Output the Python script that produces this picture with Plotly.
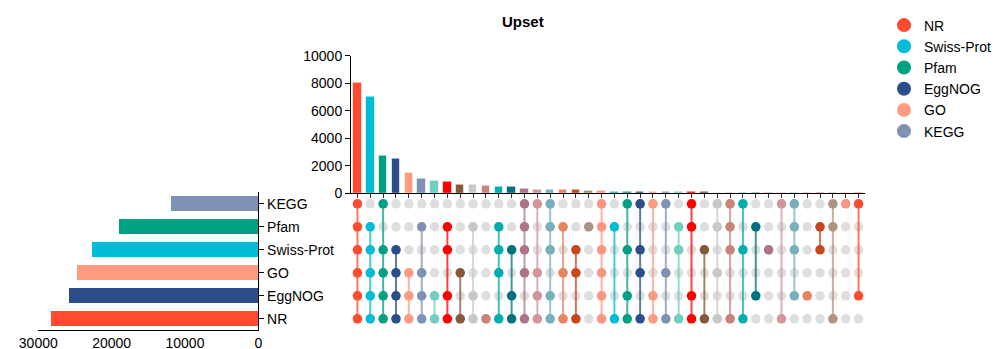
import plotly.graph_objects as go

# ---------------- data ----------------
set_names = ["NR", "EggNOG", "GO", "Swiss-Prot", "Pfam", "KEGG"]   # bottom -> top
set_sizes = [28230, 25820, 24640, 22640, 18950, 11910]

legend_order = ["NR", "Swiss-Prot", "Pfam", "EggNOG", "GO", "KEGG"]

intersections = [
    ["KEGG", "Pfam", "Swiss-Prot", "GO", "EggNOG", "NR"],
    ["Pfam", "Swiss-Prot", "GO", "EggNOG", "NR"],
    ["KEGG", "Swiss-Prot", "GO", "EggNOG", "NR"],
    ["Swiss-Prot", "GO", "EggNOG", "NR"],
    ["GO", "EggNOG", "NR"],
    ["Pfam", "GO", "EggNOG", "NR"],
    ["EggNOG", "NR"],
    ["Pfam", "Swiss-Prot", "EggNOG", "NR"],
    ["GO", "NR"],
    ["Pfam", "EggNOG", "NR"],
    ["NR"],
    ["Pfam", "Swiss-Prot", "GO", "NR"],
    ["Swiss-Prot", "EggNOG", "NR"],
    ["KEGG", "Pfam", "Swiss-Prot", "GO", "NR"],
    ["KEGG", "GO", "EggNOG", "NR"],
    ["KEGG", "Pfam", "Swiss-Prot", "EggNOG", "NR"],
    ["Pfam", "GO", "NR"],
    ["Swiss-Prot", "GO", "NR"],
    ["Pfam"],
    ["KEGG", "Pfam", "Swiss-Prot", "GO", "EggNOG", "NR"],
    ["Pfam", "NR"],
    ["KEGG", "Swiss-Prot", "EggNOG", "NR"],
    ["KEGG", "Swiss-Prot", "GO", "NR"],
    ["KEGG", "EggNOG", "NR"],
    ["KEGG", "GO", "NR"],
    ["Pfam", "Swiss-Prot", "NR"],
    ["KEGG", "Pfam", "EggNOG", "NR"],
    ["Swiss-Prot", "NR"],
    ["KEGG", "Pfam", "GO", "NR"],
    ["KEGG", "Pfam", "Swiss-Prot", "NR"],
    ["KEGG", "Swiss-Prot", "NR"],
    ["Pfam", "EggNOG"],
    ["Swiss-Prot"],
    ["KEGG", "NR"],
    ["KEGG", "Pfam", "Swiss-Prot", "EggNOG"],
    ["EggNOG"],
    ["Pfam", "Swiss-Prot"],
    ["KEGG", "Pfam", "NR"],
    ["KEGG"],
    ["KEGG", "EggNOG"],
]

intersection_sizes = [8050, 7010, 2710, 2480, 1470, 1040, 900, 870, 630, 600,
                      530, 510, 460, 315, 290, 265, 240, 235, 215, 180,
                      145, 140, 120, 95, 92, 90, 88, 85, 70, 68,
                      62, 45, 40, 35, 30, 25, 20, 15, 10, 8]

# ---------------- styles ----------------
palette = ["#FF4B2F", "#00BCD6", "#00A083", "#2B4D89", "#FF9B80", "#7F92B5",
           "#6FD0C0", "#FF0000", "#86583C", "#C8C8C8", "#C98377", "#00AFAD",
           "#00727F", "#AD7389", "#D4959A", "#77AFBE", "#E8845E", "#C9461F",
           "#B09483", "#FF9580"]
col_colors = [palette[0]] + [palette[1 + (i % 19)] for i in range(38)] + [palette[0]]
set_colors = {"NR": palette[0], "Swiss-Prot": palette[1], "Pfam": palette[2],
              "EggNOG": palette[3], "GO": palette[4], "KEGG": palette[5]}

def rgba(h, a):
    h = h.lstrip("#")
    return "rgba(%d,%d,%d,%.2f)" % (int(h[0:2], 16), int(h[2:4], 16), int(h[4:6], 16), a)

# the page body has an 8px margin; compensate so that window pixels match
OFF = 8
W, H = 1005 - OFF, 349 - OFF
def px(x): return (x - OFF) / W
def py(y): return 1 - (y - OFF) / H

FONT = "Arial, Liberation Sans, sans-serif"
n = len(intersections)
cols = list(range(n))

fig = go.Figure()

# top intersection bars
fig.add_trace(go.Bar(x=cols, y=intersection_sizes, marker=dict(color=col_colors,
                     line=dict(color="rgba(255,255,255,0.6)", width=1)),
                     width=0.66, xaxis="x3", yaxis="y3", showlegend=False, hoverinfo="y"))

# left set-size bars
fig.add_trace(go.Bar(x=set_sizes, y=set_names, orientation="h",
                     marker=dict(color=[set_colors[s] for s in set_names]),
                     width=0.65, xaxis="x", yaxis="y", showlegend=False))

# matrix: background dots
gx, gy = [], []
for i in cols:
    for s in set_names:
        gx.append(i); gy.append(s)
fig.add_trace(go.Scatter(x=gx, y=gy, mode="markers", xaxis="x2", yaxis="y",
                         marker=dict(size=9.5, color="#DEDEDE"), showlegend=False, hoverinfo="skip"))

# matrix: connecting lines
order = {s: k for k, s in enumerate(set_names)}
for i, mem in enumerate(intersections):
    if len(mem) > 1:
        idx = sorted(order[s] for s in mem)
        fig.add_trace(go.Scatter(x=[i, i], y=[set_names[idx[0]], set_names[idx[-1]]],
                                 mode="lines", xaxis="x2", yaxis="y",
                                 line=dict(color=rgba(col_colors[i], 0.75), width=2),
                                 showlegend=False, hoverinfo="skip"))

# matrix: member dots
mx, my, mc = [], [], []
for i, mem in enumerate(intersections):
    for s in mem:
        mx.append(i); my.append(s); mc.append(col_colors[i])
fig.add_trace(go.Scatter(x=mx, y=my, mode="markers", xaxis="x2", yaxis="y",
                         marker=dict(size=9.5, color=mc), showlegend=False, hoverinfo="skip"))

# legend entries
for s in legend_order:
    fig.add_trace(go.Scatter(x=[None], y=[None], mode="markers", name=s,
                             xaxis="x2", yaxis="y",
                             marker=dict(size=14, color=set_colors[s])))

axis_common = dict(showgrid=False, zeroline=False, linecolor="#000", linewidth=1,
                   automargin=False, tickformat="d",
                   tickfont=dict(size=14, color="#000", family=FONT))

fig.update_layout(
    template="none",
    width=W, height=H, autosize=False,
    margin=dict(l=0, r=0, t=0, b=0, autoexpand=False),
    paper_bgcolor="white", plot_bgcolor="white",
    font=dict(family=FONT, color="#000"),
    bargap=0,
    xaxis=dict(domain=[px(38.3), px(258.3)], range=[30000, 0], anchor="y",
               showline=True, ticks="", tickvals=[0, 10000, 20000, 30000], **axis_common),
    yaxis=dict(domain=[py(330.3), py(192.3)], type="category", categoryarray=set_names,
               categoryorder="array", range=[-0.5, 5.5], anchor="x", side="right",
               showline=True, ticks="outside", ticklen=5, tickcolor="#000", **axis_common),
    xaxis2=dict(domain=[px(351), px(865)], range=[-0.5, n - 0.5], anchor="y",
                visible=False, showgrid=False, zeroline=False, automargin=False),
    xaxis3=dict(domain=[px(351), px(865)], range=[-0.5, n - 0.5], anchor="y3",
                showline=True, ticks="outside", ticklen=4, tickcolor="#333",
                tickmode="linear", tick0=0, dtick=1, showticklabels=False,
                showgrid=False, zeroline=False, linecolor="#000", automargin=False),
    yaxis3=dict(domain=[py(193.3), py(55.7)], range=[0, 10000], anchor="x3",
                showline=True, ticks="outside", ticklen=5, tickcolor="#000",
                dtick=2000, **axis_common),
    legend=dict(x=px(884), y=py(9.5), xanchor="left", yanchor="top",
                xref="container", yref="container",
                font=dict(size=14, family=FONT, color="#000"), itemwidth=30,
                bgcolor="rgba(0,0,0,0)", borderwidth=0),
    annotations=[dict(text="<b>Upset</b>", x=px(523), y=py(22), xref="paper", yref="paper",
                      xanchor="center", yanchor="middle", showarrow=False,
                      font=dict(size=15, family=FONT, color="#000"))],
)

fig.write_html("out.html")
